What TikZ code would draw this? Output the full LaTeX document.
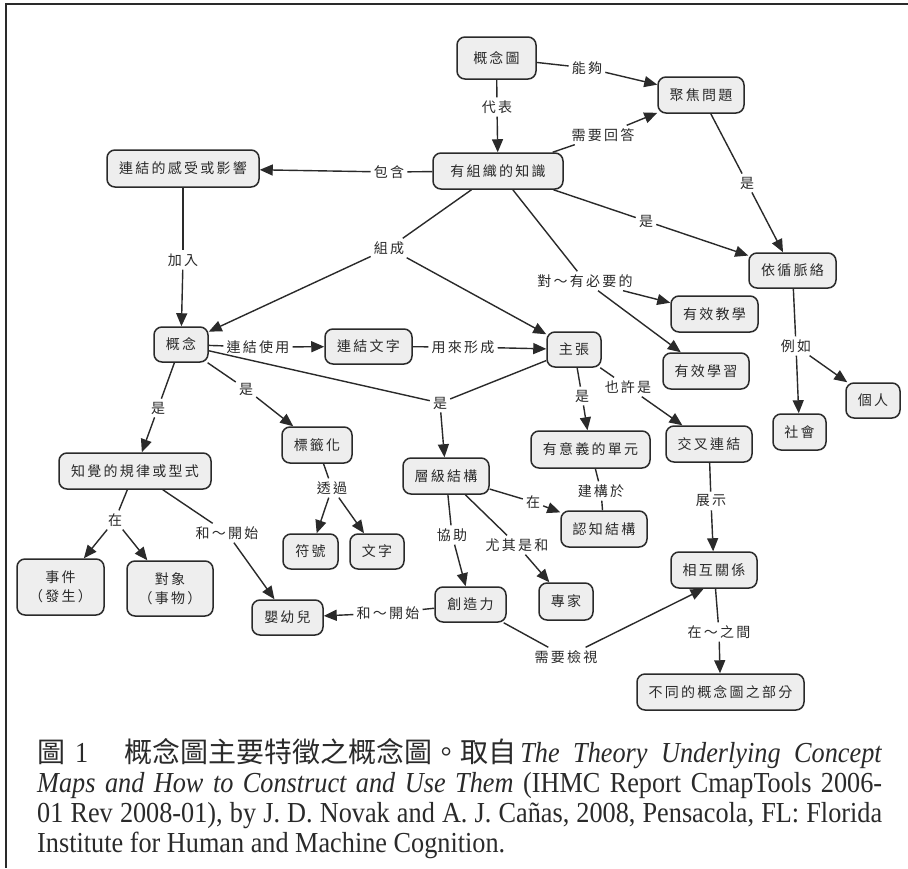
\documentclass[tikz,border=0pt]{standalone}
\usepackage{fontspec}
\setmainfont{Liberation Serif}
\newfontfamily\cjk[LetterSpace=16]{Noto Sans CJK TC}
\newfontfamily\capcjk{Noto Sans CJK TC}
\newfontfamily\caplat[FakeStretch=0.905]{Liberation Serif}
\usetikzlibrary{arrows.meta,calc}
\definecolor{nfill}{HTML}{EEEEEE}
\definecolor{ink}{HTML}{2A2A2A}
\tikzset{
  concept/.style={draw=ink, line width=1.5pt, fill=nfill, rounded corners=8pt, inner sep=0pt, align=center, font=\cjk\fontsize{14}{19}\selectfont, text=ink},
  lbl/.style={inner sep=3pt, font=\cjk\fontsize{14}{16}\selectfont, text=ink},
  con/.style={draw=ink, line width=1.4pt},
  arr/.style={con, -{Triangle[length=13pt,width=11pt]}},
  capline/.style={anchor=base west, inner sep=0pt, font=\caplat\fontsize{29}{30}\selectfont, text=ink},
  frameline/.style={draw=ink, line width=2pt},
}
\newcommand\mkconcept[5]{\node[concept, minimum width=#4pt, minimum height=#5pt] (#1) at (#2) {#3};}
\newcommand\capcj[1]{{\capcjk\fontsize{28}{30}\selectfont #1}}
\frenchspacing
\begin{document}
\begin{tikzpicture}[x=1pt,y=-1pt]
\useasboundingbox (0,0) rectangle (908,868);
\fill[white] (0,0) rectangle (908,868);
% frame (top and left edges visible)
\coordinate (fr1) at (908,4);
\coordinate (fr2) at (6,4);
\coordinate (fr3) at (6,868);
\draw[frameline] (fr1) -- (fr2) -- (fr3);

% concepts
\mkconcept{cmap}{496.5,58}{概念圖}{79}{42}
\mkconcept{fq}{701,95}{聚焦問題}{86}{36}
\mkconcept{ok}{498,171}{有組織的知識}{130}{36}
\mkconcept{lf}{183,168.5}{連結的感受或影響}{152}{37}
\mkconcept{ctx}{792.5,270.5}{依循脈絡}{87}{35}
\mkconcept{et}{714.5,314}{有效教學}{87}{36}
\mkconcept{el}{706,371}{有效學習}{86}{36}
\mkconcept{c}{181,344.5}{概念}{54}{35}
\mkconcept{lw}{368.5,346.5}{連結文字}{87}{35}
\mkconcept{p}{574,349.5}{主張}{54}{35}
\mkconcept{ind}{873,400.5}{個人}{54}{35}
\mkconcept{soc}{799.5,432}{社會}{53}{36}
\mkconcept{pr}{135,471}{知覺的規律或型式}{152}{36}
\mkconcept{lab}{317,445}{標籤化}{70}{36}
\mkconcept{hs}{446,476}{層級結構}{86}{36}
\mkconcept{mu}{590.5,449.5}{有意義的單元}{119}{37}
\mkconcept{cl}{709,444}{交叉連結}{86}{36}
\mkconcept{sym}{310.5,551.5}{符號}{55}{35}
\mkconcept{wd}{377,551.5}{文字}{54}{35}
\mkconcept{cs}{604,529}{認知結構}{86}{36}
\mkconcept{ev}{60.5,587}{事件\\（發生）}{87}{56}
\mkconcept{ob}{170,588.5}{對象\\（事物）}{86}{55}
\mkconcept{ir}{714,570}{相互關係}{86}{36}
\mkconcept{ex}{566,601.5}{專家}{54}{37}
\mkconcept{cr}{470.5,604.5}{創造力}{71}{35}
\mkconcept{inf}{287.5,617.5}{嬰幼兒}{71}{35}
\mkconcept{dp}{720.5,692}{不同的概念圖之部分}{167}{36}

% linking phrases
\node[lbl] (l1) at (497,107) {代表};
\node[lbl] (l2) at (587,68) {能夠};
\node[lbl] (l3) at (603,135) {需要回答};
\node[lbl] (l4) at (389,172) {包含};
\node[lbl] (l5) at (747,183) {是};
\node[lbl] (l6) at (646,221) {是};
\node[lbl] (l7) at (585,281) {對～有必要的};
\node[lbl] (l8) at (389,248) {組成};
\node[lbl] (l9) at (183,260) {加入};
\node[lbl] (l10) at (258,347) {連結使用};
\node[lbl] (l11) at (463,347) {用來形成};
\node[lbl] (l12) at (158,408) {是};
\node[lbl] (l13) at (246,389) {是};
\node[lbl] (l14) at (440,403) {是};
\node[lbl] (l15) at (582,396) {是};
\node[lbl] (l16) at (628,387) {也許是};
\node[lbl] (l17) at (796,346) {例如};
\node[lbl] (l18) at (332,488) {透過};
\node[lbl] (l19) at (115,520) {在};
\node[lbl] (l20) at (227,533) {和～開始};
\node[lbl] (l21) at (452,535) {協助};
\node[lbl] (l22) at (533,502) {在};
\node[lbl] (l23) at (517,545) {尤其是和};
\node[lbl] (l24) at (601,491) {建構於};
\node[lbl] (l25) at (711,501) {展示};
\node[lbl] (l26) at (388,613) {和～開始};
\node[lbl] (l27) at (566,657) {需要檢視};
\node[lbl] (l28) at (719,632) {在～之間};

% connections
\draw[con] (cmap) -- (l1); \draw[arr] (l1) -- (ok);
\draw[con] (cmap) -- (l2); \draw[arr] (l2) -- (fq);
\draw[con] (ok) -- (l3); \draw[arr] (l3) -- (fq);
\draw[con] (ok) -- (l4); \draw[arr] (l4) -- (lf);
\draw[con] (fq) -- (l5); \draw[arr] (l5) -- (ctx);
\draw[con] (ok) -- (l6); \draw[arr] (l6) -- (ctx);
\draw[con] (ok) -- (l7); \draw[arr] (l7) -- (et); \draw[arr] (l7) -- (el);
\draw[con] (ok) -- (l8); \draw[arr] (l8) -- (c); \draw[arr] (l8) -- (p);
\draw[con] (lf) -- (l9); \draw[arr] (l9) -- (c);
\draw[con] (c) -- (l10); \draw[arr] (l10) -- (lw);
\draw[con] (lw) -- (l11); \draw[arr] (l11) -- (p);
\draw[con] (c) -- (l12); \draw[arr] (l12) -- (pr);
\draw[con] (c) -- (l13); \draw[arr] (l13) -- (lab);
\draw[con] (c) -- (l14); \draw[con] (p) -- (l14); \draw[arr] (l14) -- (hs);
\draw[con] (p) -- (l15); \draw[arr] (l15) -- (mu);
\draw[con] (p) -- (l16); \draw[arr] (l16) -- (cl);
\draw[con] (ctx) -- (l17); \draw[arr] (l17) -- (soc); \draw[arr] (l17) -- (ind);
\draw[con] (lab) -- (l18); \draw[arr] (l18) -- (sym); \draw[arr] (l18) -- (wd);
\draw[con] (pr) -- (l19); \draw[arr] (l19) -- (ev); \draw[arr] (l19) -- (ob);
\draw[con] (pr) -- (l20); \draw[arr] (l20) -- (inf);
\draw[con] (hs) -- (l21); \draw[arr] (l21) -- (cr);
\draw[con] (hs) -- (l22); \draw[arr] (l22) -- (cs);
\draw[con] (hs) -- (l23); \draw[arr] (l23) -- (ex);
\draw[con] (mu) -- (l24); \draw[con] (l24) -- (cs);
\draw[con] (cl) -- (l25); \draw[arr] (l25) -- (ir);
\draw[con] (cr) -- (l26); \draw[arr] (l26) -- (inf);
\draw[con] (cr) -- (l27); \draw[arr] (l27) -- (ir.241);
\draw[con] (ir) -- (l28); \draw[arr] (l28) -- (dp);

% caption
\node[capline] (cap1) at (37,762) {\makebox[845pt][s]{\capcj{圖}\hspace{10pt}1\hspace{36pt}\capcj{概念圖主要特徵之概念圖。取自}\hspace{4pt}\textit{The Theory Underlying Concept}}};
\node[capline] (cap2) at (37,792) {\makebox[845pt][s]{\textit{Maps and How to Construct and Use Them} (IHMC Report CmapTools 2006-}};
\node[capline] (cap3) at (37,822) {\makebox[845pt][s]{01 Rev 2008-01), by J. D. Novak and A. J. Cañas, 2008, Pensacola, FL: Florida}};
\node[capline] (cap4) at (37,852) {Institute for Human and Machine Cognition.};
\end{tikzpicture}
\end{document}
